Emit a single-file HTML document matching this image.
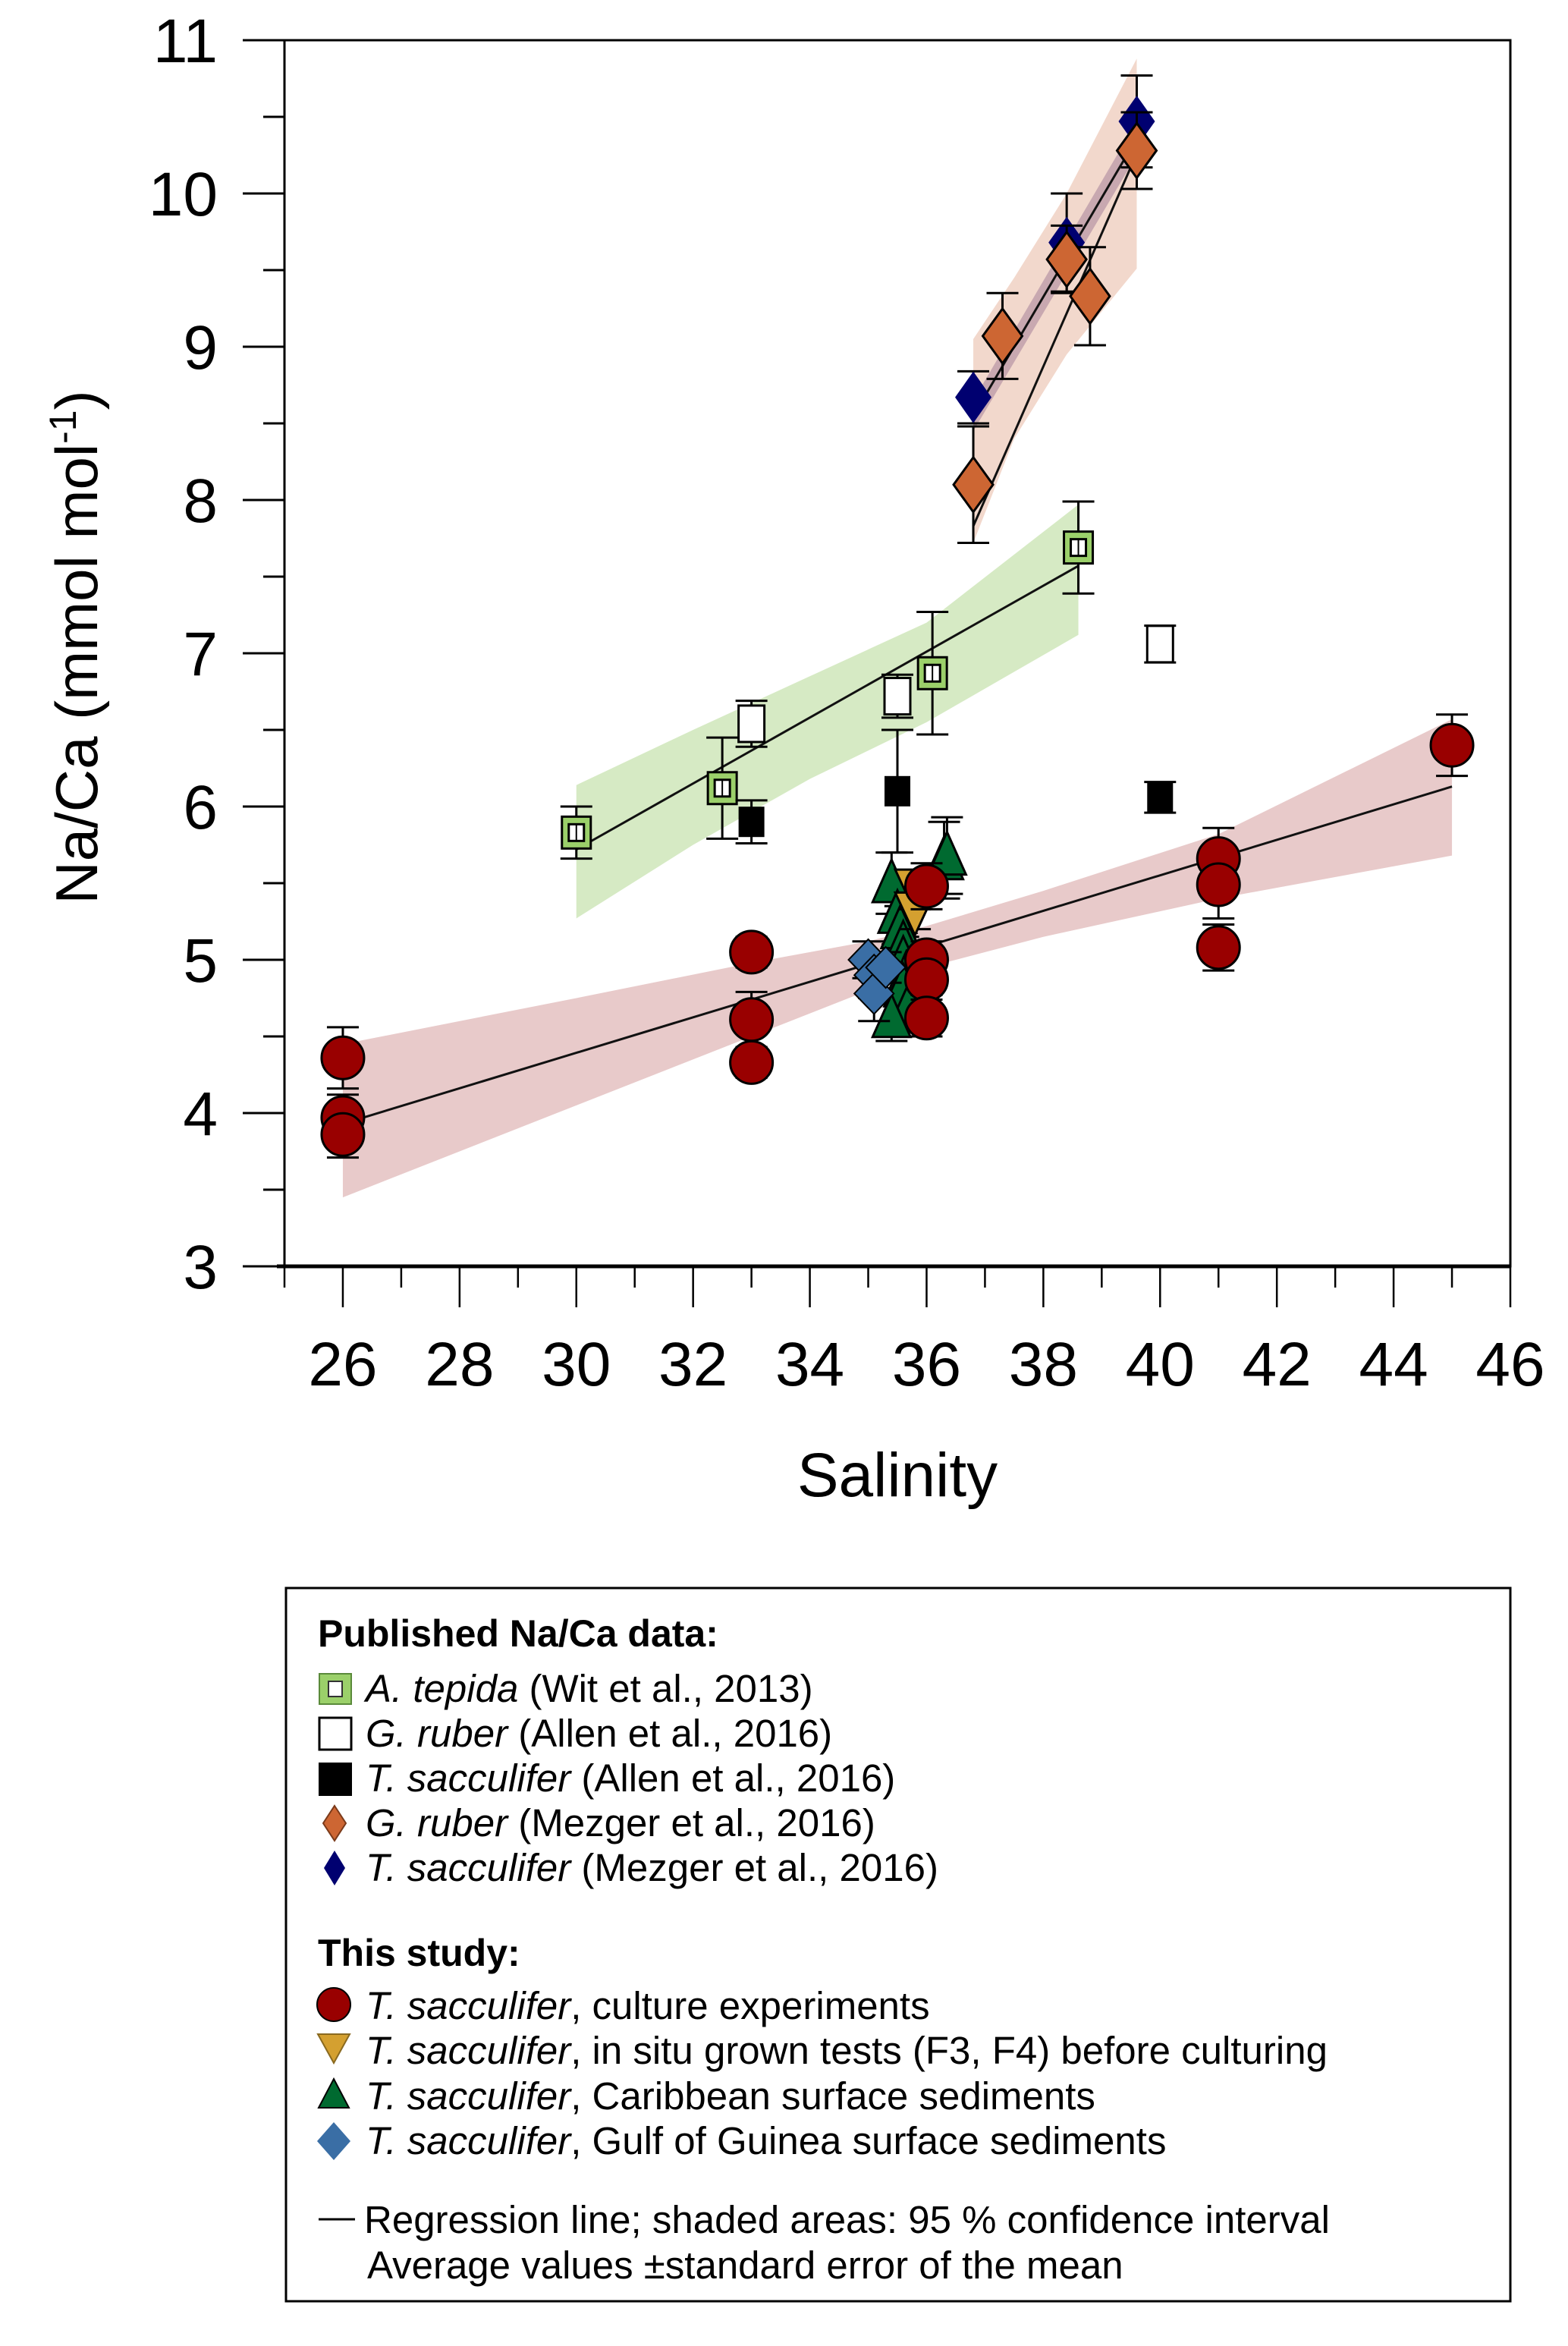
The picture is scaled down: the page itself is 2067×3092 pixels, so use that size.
<!DOCTYPE html>
<html><head><meta charset="utf-8">
<style>
html,body{margin:0;padding:0;background:#fff;}
svg{display:block;font-family:"Liberation Sans",Arial,sans-serif;}
</style></head>
<body>
<svg id="chart" width="2067" height="3092" viewBox="0 0 2067 3092" xmlns="http://www.w3.org/2000/svg">
<g id="bands"></g>
<g id="lines"></g>
<g id="marks"></g>
<g id="axes"></g>
<text transform="translate(128,853) rotate(-90)" text-anchor="middle" font-size="78">Na/Ca (mmol mol<tspan font-size="50" dy="-28">-1</tspan><tspan dy="28">)</tspan></text>
<text x="1183" y="1972" text-anchor="middle" font-size="82">Salinity</text>

<g font-size="51">
<rect x="377" y="2093" width="1614" height="940" fill="none" stroke="#000" stroke-width="3"/>
<text x="419" y="2170" font-size="50" font-weight="bold">Published Na/Ca data:</text>
<g>
<rect x="421" y="2206" width="42" height="40" fill="#9bd06a" stroke="#5a8a3a" stroke-width="2"/><rect x="433" y="2216" width="18" height="20" fill="#fff" stroke="#333" stroke-width="2"/>
<text x="482" y="2243"><tspan font-style="italic">A. tepida</tspan> (Wit et al., 2013)</text></g>
<g>
<rect x="421" y="2264" width="42" height="42" fill="#fff" stroke="#000" stroke-width="3"/>
<text x="482" y="2302"><tspan font-style="italic">G. ruber</tspan> (Allen et al., 2016)</text></g>
<g>
<rect x="420" y="2323" width="44" height="44" fill="#000"/>
<text x="482" y="2361"><tspan font-style="italic">T. sacculifer</tspan> (Allen et al., 2016)</text></g>
<g>
<polygon points="441,2380 456,2403 441,2426 426,2403" fill="#cd6633" stroke="#7a3a1a" stroke-width="2"/>
<text x="482" y="2420"><tspan font-style="italic">G. ruber</tspan> (Mezger et al., 2016)</text></g>
<g>
<polygon points="441,2439 455,2462 441,2485 427,2462" fill="#000070"/>
<text x="482" y="2479"><tspan font-style="italic">T. sacculifer</tspan> (Mezger et al., 2016)</text></g>
<text x="419" y="2591" font-size="50" font-weight="bold">This study:</text>
<g>
<circle cx="440" cy="2642" r="22" fill="#990000" stroke="#000" stroke-width="2"/>
<text x="482" y="2661"><tspan font-style="italic">T. sacculifer</tspan>, culture experiments</text></g>
<g>
<polygon points="419,2681 461,2681 440,2719" fill="#d4a030" stroke="#8a6a20" stroke-width="2"/>
<text x="482" y="2720"><tspan font-style="italic">T. sacculifer</tspan>, in situ grown tests (F3, F4) before culturing</text></g>
<g>
<polygon points="440,2740 460,2778 420,2778" fill="#006a30" stroke="#000" stroke-width="2"/>
<text x="482" y="2780"><tspan font-style="italic">T. sacculifer</tspan>, Caribbean surface sediments</text></g>
<g>
<polygon points="440,2797 462,2822 440,2847 418,2822" fill="#3a6ea5"/>
<text x="482" y="2839"><tspan font-style="italic">T. sacculifer</tspan>, Gulf of Guinea surface sediments</text></g>
<line x1="420" y1="2925" x2="468" y2="2925" stroke="#000" stroke-width="3"/>
<text x="480" y="2943">Regression line; shaded areas: 95 % confidence interval</text>
<text x="484" y="3003">Average values ±standard error of the mean</text>
</g>
</svg>
<script>
// axis domain
const xDomain=[25,46], yDomain=[3,11];
const xTicks=[26,28,30,32,34,36,38,40,42,44,46];
const yTicks=[3,4,5,6,7,8,9,10,11];
// Data series: [salinity, Na/Ca, error]
const cultureS=[26,26,26,33,33,33,36,36,36,36,41,41,41,45];
const cultureV=[4.36,3.97,3.86,5.05,4.61,4.33,5.48,5.00,4.87,4.62,5.66,5.49,5.08,6.40];
const cultureE=[0.2,0.15,0.15,0.1,0.18,0.1,0.15,0.12,0.1,0.12,0.2,0.22,0.15,0.2];
const tepidaS=[30,32.5,36.1,38.6];
const tepidaV=[5.83,6.12,6.87,7.69];
const tepidaE=[0.17,0.33,0.4,0.3];
const rAllenS=[33,35.5,40];
const rAllenV=[6.54,6.72,7.06];
const rAllenE=[0.15,0.14,0.12];
const sAllenS=[33,35.5,40];
const sAllenV=[5.9,6.1,6.06];
const sAllenE=[0.14,0.4,0.1];
const rMezS=[36.8,37.3,38.4,38.8,39.6];
const rMezV=[8.1,9.07,9.57,9.33,10.28];
const rMezE=[0.38,0.28,0.22,0.32,0.25];
const sMezS=[36.8,38.4,39.6];
const sMezV=[8.67,9.68,10.47];
const sMezE=[0.17,0.32,0.3];
const situS=[35.8,35.8];
const situV=[5.45,5.3];
const situE=[0.12,0.1];
const caribS=[35.4,36.3,36.35,35.5,35.55,35.6,35.6,35.65,35.6,35.7,35.4];
const caribV=[5.5,5.65,5.68,5.3,5.2,5.1,5.0,4.9,4.82,4.7,4.62];
const caribE=[0.2,0.25,0.25,0.2,0.15,0.15,0.15,0.15,0.15,0.15,0.15];
const guineaS=[35.0,35.1,35.1,35.3];
const guineaV=[5.0,4.9,4.78,4.95];
const guineaE=[0.12,0.15,0.18,0.1];
// regression lines [x1,y1,x2,y2]
const regCulture=[26,3.93,45,6.13];
const regTepida=[30,5.72,38.6,7.57];
const regRMez=[36.8,7.83,39.6,10.26];
const regSMez=[36.8,8.55,39.6,10.36];
// confidence band: salinity, lower, upper
const bandCultureS=[26,30,33,35,36,38,41,45];
const bandCultureLo=[3.45,4.05,4.5,4.8,4.95,5.15,5.4,5.68];
const bandCultureHi=[4.45,4.75,4.98,5.12,5.22,5.45,5.82,6.57];
const bandTepidaS=[30,32,34,36,38.6];
const bandTepidaLo=[5.27,5.75,6.18,6.55,7.12];
const bandTepidaHi=[6.14,6.5,6.85,7.2,7.97];
const bandRMezS=[36.8,37.5,38.4,39.6];
const bandRMezLo=[7.72,8.4,8.95,9.51];
const bandRMezHi=[9.05,9.45,10.0,10.88];
const bandSMezS=[36.8,39.6];
const bandSMezLo=[8.45,10.25];
const bandSMezHi=[8.65,10.47];

const X0=375,X1=1991,Y0=1669,Y1=53;
const xs=s=>X0+(s-xDomain[0])/(xDomain[1]-xDomain[0])*(X1-X0);
const ys=v=>Y0-(v-yDomain[0])/(yDomain[1]-yDomain[0])*(Y0-Y1);
const NS="http://www.w3.org/2000/svg";
function mk(parent,tag,attrs){const e=document.createElementNS(NS,tag);for(const k in attrs)e.setAttribute(k,attrs[k]);parent.appendChild(e);return e;}
const gB=document.getElementById('bands'),gL=document.getElementById('lines'),gM=document.getElementById('marks'),gA=document.getElementById('axes');

function band(S,L,H,fill,name){
  let pts=S.map((s,i)=>xs(s)+','+ys(H[i]));
  for(let i=S.length-1;i>=0;i--)pts.push(xs(S[i])+','+ys(L[i]));
  const p=mk(gB,'polygon',{points:pts.join(' '),fill:fill});
  
  
}
band(bandCultureS,bandCultureLo,bandCultureHi,'#e8caca','culture-confidence-band');
band(bandTepidaS,bandTepidaLo,bandTepidaHi,'#d6eac4','tepida-confidence-band');
band(bandRMezS,bandRMezLo,bandRMezHi,'#f2d8cc','g-ruber-mezger-confidence-band');
band(bandSMezS,bandSMezLo,bandSMezHi,'#c8a8b0','t-sacculifer-mezger-confidence-band');

function reg(r,name){
  const l=mk(gL,'line',{x1:xs(r[0]),y1:ys(r[1]),x2:xs(r[2]),y2:ys(r[3]),stroke:'#111',"stroke-width":3});
  
  
}

function err(s,v,e){
  const x=xs(s);
  mk(gM,'line',{x1:x,y1:ys(v+e),x2:x,y2:ys(v-e),stroke:'#000',"stroke-width":3});
  mk(gM,'line',{x1:x-21,y1:ys(v+e),x2:x+21,y2:ys(v+e),stroke:'#000',"stroke-width":3});
  mk(gM,'line',{x1:x-21,y1:ys(v-e),x2:x+21,y2:ys(v-e),stroke:'#000',"stroke-width":3});
}
function series(S,V,E,shape,name){
  S.forEach((s,i)=>err(s,V[i],E[i]));
  S.forEach((s,i)=>{
    const x=xs(s),y=ys(V[i]);let el;
    if(shape==='circle'){el=mk(gM,'circle',{cx:x,cy:y,r:28,fill:'#990000',stroke:'#000',"stroke-width":3});}
    else if(shape==='tepida'){el=mk(gM,'g',{});mk(el,'rect',{x:x-19,y:y-21,width:38,height:42,fill:'#9bd06a',stroke:'#000',"stroke-width":3});mk(el,'rect',{x:x-10,y:y-11,width:20,height:22,fill:'#fff',stroke:'#000',"stroke-width":3});mk(el,'line',{x1:x,y1:y-11,x2:x,y2:y+11,stroke:'#000',"stroke-width":2});}
    else if(shape==='whitesq'){el=mk(gM,'rect',{x:x-17,y:y-24,width:34,height:48,fill:'#fff',stroke:'#000',"stroke-width":3});}
    else if(shape==='blacksq'){el=mk(gM,'rect',{x:x-17,y:y-20,width:34,height:40,fill:'#000'});}
    else if(shape==='orangedia'){el=mk(gM,'polygon',{points:`${x},${y-36} ${x+26},${y} ${x},${y+36} ${x-26},${y}`,fill:'#cd6633',stroke:'#000',"stroke-width":3});}
    else if(shape==='navydia'){el=mk(gM,'polygon',{points:`${x},${y-34} ${x+24},${y} ${x},${y+34} ${x-24},${y}`,fill:'#000070'});}
    else if(shape==='down'){el=mk(gM,'polygon',{points:`${x-26},${y-28} ${x+26},${y-28} ${x},${y+28}`,fill:'#d4a030',stroke:'#000',"stroke-width":3});}
    else if(shape==='up'){el=mk(gM,'polygon',{points:`${x},${y-31} ${x+25},${y+25} ${x-25},${y+25}`,fill:'#006a30',stroke:'#000',"stroke-width":3});}
    else if(shape==='bluedia'){el=mk(gM,'polygon',{points:`${x},${y-27} ${x+26},${y} ${x},${y+27} ${x-26},${y}`,fill:'#3a6ea5',stroke:'#000',"stroke-width":2});}
    
    
  });
}
series(tepidaS,tepidaV,tepidaE,'tepida','a-tepida');
series(rAllenS,rAllenV,rAllenE,'whitesq','g-ruber-allen');
series(sAllenS,sAllenV,sAllenE,'blacksq','t-sacculifer-allen');
reg(regTepida,'tepida-regression-line');
series(sMezS,sMezV,sMezE,'navydia','t-sacculifer-mezger');
series(rMezS,rMezV,rMezE,'orangedia','g-ruber-mezger');
reg(regSMez,'t-sacculifer-mezger-regression-line');
reg(regRMez,'g-ruber-mezger-regression-line');
series(caribS,caribV,caribE,'up','caribbean');
series(guineaS,guineaV,guineaE,'bluedia','gulf-of-guinea');
series(situS,situV,situE,'down','in-situ');
series(cultureS,cultureV,cultureE,'circle','culture');
reg(regCulture,'culture-regression-line');

// axes
const frame=mk(gA,'path',{d:`M${X0},${Y0} L${X0},${Y1} L${X1},${Y1} L${X1},${Y0} Z`,fill:'none',stroke:'#000',"stroke-width":3});


const xAxis=mk(gA,'line',{x1:X0-10,y1:Y0,x2:X1,y2:Y0,stroke:'#000',"stroke-width":5});


for(let s=xDomain[0];s<=xDomain[1];s++){
  const major=xTicks.includes(s);
  const t=mk(gA,'line',{x1:xs(s),y1:Y0,x2:xs(s),y2:Y0+(major?54:28),stroke:'#000',"stroke-width":2.5});
  
  
}
xTicks.forEach(s=>{
  const t=mk(gA,'text',{x:xs(s),y:1826,"text-anchor":"middle","font-size":82});
  t.textContent=s;
  
  
});
for(let v=yDomain[0];v<=yDomain[1]+0.001;v+=0.5){
  const major=Math.abs(v-Math.round(v))<0.01;
  const t=mk(gA,'line',{x1:X0-(major?55:28),y1:ys(v),x2:X0,y2:ys(v),stroke:'#000',"stroke-width":3});
  
  
}
yTicks.forEach(v=>{
  const t=mk(gA,'text',{x:287,y:ys(v)+29,"text-anchor":"end","font-size":82});
  t.textContent=v;
  
  
});
</script>
</body></html>
